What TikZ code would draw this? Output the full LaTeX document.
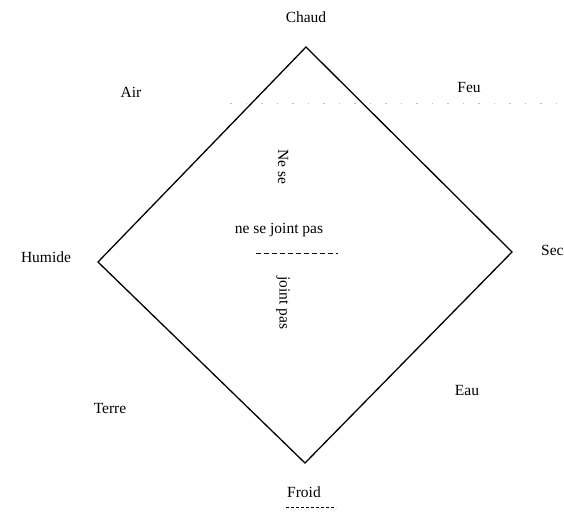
\documentclass[tikz,border=0pt]{standalone}
\usepackage{fontspec}
\setmainfont{Liberation Serif}
\begin{document}
\begin{tikzpicture}[x=1pt,y=-1pt,
  lbl/.style={font=\fontsize{15.5}{18}\selectfont, inner sep=0pt},
  edge/.style={line width=1.3pt, line join=miter},
  artefact/.style={line width=0.8pt, dash pattern=on 5pt off 3pt}]
\useasboundingbox (0,0) rectangle (564,514);
\coordinate (top) at (306,47);
\coordinate (right) at (512,252);
\coordinate (bottom) at (305,463);
\coordinate (left) at (98,262);
\draw[edge] (top) -- (right) -- (bottom) -- (left) -- cycle;
\node[lbl] (chaud) at (306,17) {Chaud};
\node[lbl] (froid) at (304,492) {Froid};
\node[lbl] (humide) at (46,257) {Humide};
\node[lbl, anchor=west] (sec) at (541,250) {Sec};
\node[lbl] (air) at (131,92) {Air};
\node[lbl] (feu) at (469,87) {Feu};
\node[lbl] (terre) at (110,408) {Terre};
\node[lbl] (eau) at (467,390) {Eau};
\node[lbl] (center) at (279,230) {ne se joint pas};
\node[lbl, rotate=-90] (nese) at (283,167) {Ne se};
\node[lbl, rotate=-90] (jointpas) at (283,303) {joint pas};
\coordinate (d1) at (256,253);
\coordinate (d2) at (338,253);
\draw[artefact] (d1) -- (d2);
\coordinate (f1) at (286,507);
\coordinate (f2) at (336,507);
\draw[artefact, line width=0.6pt, dash pattern=on 3pt off 2pt] (f1) -- (f2);
\coordinate (t1) at (230,103);
\coordinate (t2) at (560,103);
\draw[gray!50, line width=0.6pt, dash pattern=on 1.5pt off 14pt] (t1) -- (t2);
\end{tikzpicture}
\end{document}
